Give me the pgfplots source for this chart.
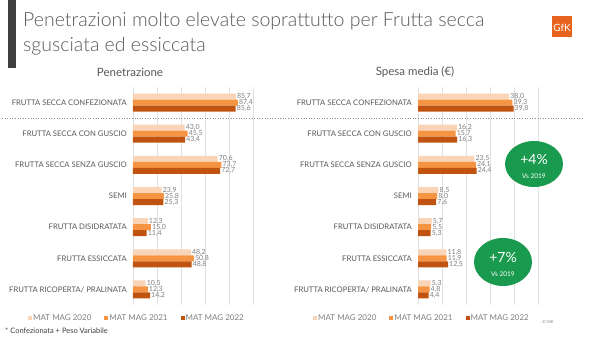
\documentclass[border=0pt]{standalone}
\usepackage{fontspec}
\setmainfont{Lato}
\IfFontExistsTF{Lato Light}{\newfontfamily\lightfont{Lato Light}}{\newfontfamily\lightfont{Lato}}
\usepackage{pgfplots}
\usepackage{pgfplotstable}
\pgfplotsset{compat=1.18}
\definecolor{c20}{HTML}{FAD4B6}
\definecolor{c21}{HTML}{F59443}
\definecolor{c22}{HTML}{C0530F}
\definecolor{txt}{HTML}{595959}
\definecolor{lbl}{HTML}{7F7F7F}
\definecolor{grn}{HTML}{1A9A4E}
\definecolor{gfk}{HTML}{E8641E}
\definecolor{dbar}{HTML}{3F3F3F}

\pgfplotstableread{
pos p0 p1 p2 s0 s1 s2
6 85.7 87.4 85.6 38.0 39.3 39.8
5 43.0 45.5 43.4 16.2 15.7 16.3
4 70.6 73.7 72.7 23.5 24.1 24.4
3 23.9 25.8 25.3 8.5 8.0 7.6
2 12.3 15.0 11.4 5.7 5.5 5.3
1 48.2 50.8 48.8 11.8 11.9 12.5
0 10.5 12.3 14.2 5.3 4.8 4.4
}\data

\pgfplotsset{panel/.style={
  xbar, scale only axis, width=120pt, height=218pt,
  ymin=-0.5, ymax=6.5, ytick={0,...,6},
  yticklabels={FRUTTA RICOPERTA/ PRALINATA, FRUTTA ESSICCATA, FRUTTA DISIDRATATA, SEMI, FRUTTA SECCA SENZA GUSCIO, FRUTTA SECCA CON GUSCIO, FRUTTA SECCA CONFEZIONATA},
  yticklabel style={font=\fontsize{7.7}{8}\selectfont, text=txt, inner sep=0pt},
  yticklabel shift=6pt,
  xticklabels={},
  major tick length=0pt,
  axis line style={draw=none},
  xmajorgrids, grid style={draw=black!12, line width=0.6pt},
  bar width=6pt,
  point meta=x,
  /pgf/number format/assume math mode=true,
  nodes near coords={\pgfmathprintnumber[fixed,fixed zerofill,precision=1,use comma,assume math mode=true]{\pgfplotspointmeta}},
  every node near coord/.append style={font=\fontsize{7}{7}\selectfont, text=lbl, inner sep=1pt, anchor=west},
  legend columns=3,
  legend style={draw=none, fill=none, anchor=west, at={(-0.875,-0.06)}, inner sep=0pt,
    font=\fontsize{8}{8}\selectfont, text=lbl, nodes={inner sep=1pt},
    /tikz/every even column/.append style={column sep=12pt}},
  legend image code/.code={\fill[##1] (0pt,-2pt) rectangle (4pt,2pt);},
}}

\begin{document}
\begin{tikzpicture}[x=1pt,y=1pt]
\useasboundingbox (0pt,0pt) rectangle (600pt,337pt);
\fill[white] (0pt,0pt) rectangle (600pt,337pt);
% left dark bar
\fill[dbar] (8pt,337pt) rectangle (16pt,269pt);
% title
\node[anchor=base west, inner sep=0pt, text=txt, font=\lightfont\fontsize{19.5}{22}\selectfont] at (23pt,310pt) {Penetrazioni molto elevate soprattutto per Frutta secca};
\node[anchor=base west, inner sep=0pt, text=txt, font=\lightfont\fontsize{19.5}{22}\selectfont] at (23pt,285pt) {sgusciata ed essiccata};
% GfK logo
\fill[gfk] (552pt,321pt) rectangle (572pt,300pt);
\node[text=white, font=\fontsize{10}{10}\selectfont, inner sep=0pt] at (562pt,309pt) {GfK};
% subtitles
\node[text=txt, font=\fontsize{11.5}{12}\selectfont] at (130pt,265pt) {Penetrazione};
\node[text=txt, font=\fontsize{11.5}{12}\selectfont] at (415pt,265pt) {Spesa media (€)};

\begin{axis}[panel, at={(133pt,32pt)}, anchor=south west, xmin=0, xmax=100, xtick={0,20,...,100}]
\addplot[fill=c20, draw=none, bar shift=6pt] table[x=p0, y=pos] {\data};
\addplot[fill=c21, draw=none, bar shift=0pt] table[x=p1, y=pos] {\data};
\addplot[fill=c22, draw=none, bar shift=-6pt] table[x=p2, y=pos] {\data};
\legend{MAT MAG 2020, MAT MAG 2021, MAT MAG 2022}
\end{axis}

\begin{axis}[panel, at={(418pt,32pt)}, anchor=south west, xmin=0, xmax=50, xtick={0,10,...,50}]
\addplot[fill=c20, draw=none, bar shift=6pt] table[x=s0, y=pos] {\data};
\addplot[fill=c21, draw=none, bar shift=0pt] table[x=s1, y=pos] {\data};
\addplot[fill=c22, draw=none, bar shift=-6pt] table[x=s2, y=pos] {\data};
\legend{MAT MAG 2020, MAT MAG 2021, MAT MAG 2022}
\end{axis}

% dotted separator
\draw[black!45, dotted, line width=0.6pt] (2pt,219pt) -- (583pt,219pt);
% green badges
\fill[grn] (534pt,173pt) ellipse [x radius=29pt, y radius=23pt];
\node[text=white, font=\fontsize{14}{14}\selectfont] at (534pt,178pt) {+4\%};
\node[text=white, font=\fontsize{6.5}{6.5}\selectfont] at (534pt,161pt) {Vs 2019};
\fill[grn] (503pt,75pt) ellipse [x radius=29pt, y radius=24pt];
\node[text=white, font=\fontsize{14}{14}\selectfont] at (503pt,80pt) {+7\%};
\node[text=white, font=\fontsize{6.5}{6.5}\selectfont] at (503pt,63pt) {Vs 2019};
% footnotes
\node[anchor=base west, inner sep=0pt, text=dbar, font=\fontsize{7.5}{8}\selectfont] at (5pt,3pt) {* Confezionata + Peso Variabile};
\node[text=lbl, font=\fontsize{4}{4}\selectfont, inner sep=0pt] at (548pt,15pt) {© GfK};
\end{tikzpicture}
\end{document}
